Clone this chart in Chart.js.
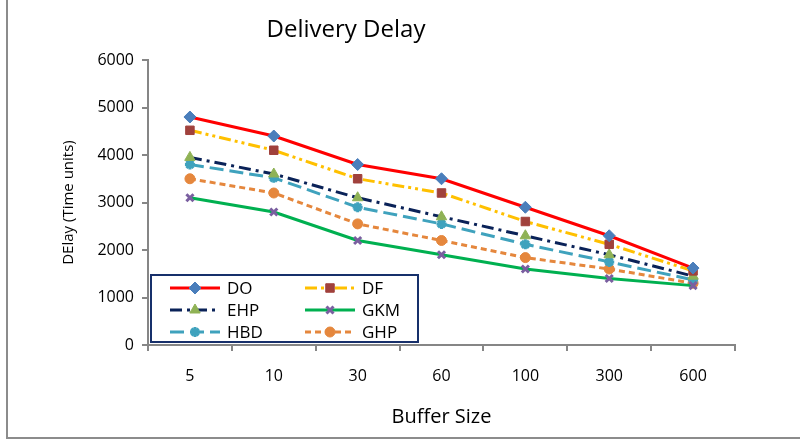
<!DOCTYPE html>
<html lang="en">
<head>
    <meta charset="UTF-8">
    <title>Delivery Delay</title>
    <script src="https://cdn.jsdelivr.net/npm/chart.js"></script>
    <style>
        html, body { margin: 0; padding: 0; background: #fff; }
        #wrap { position: relative; width: 800px; height: 442px; }
    </style>
</head>
<body>
<div id="wrap">
    <canvas id="delayChart" width="800" height="442"></canvas>
</div>

<script>
    // Data
    const bufferSizes = ['5', '10', '30', '60', '100', '300', '600'];
    const doValues  = [4800, 4400, 3800, 3500, 2900, 2300, 1620];
    const dfValues  = [4520, 4100, 3500, 3200, 2600, 2120, 1560];
    const ehpValues = [3950, 3600, 3100, 2700, 2300, 1900, 1450];
    const gkmValues = [3100, 2800, 2200, 1900, 1600, 1400, 1250];
    const hbdValues = [3800, 3520, 2900, 2550, 2120, 1750, 1370];
    const ghpValues = [3500, 3200, 2550, 2200, 1840, 1600, 1300];
    const yTicks = [0, 1000, 2000, 3000, 4000, 5000, 6000];

    const FONT = '"Open Sans", "Liberation Sans", sans-serif';

    // Frame lines, title and the boxed legend inside the plot
    const decorPlugin = {
        id: 'decor',
        beforeDraw(chart) {
            const ctx = chart.ctx;
            ctx.save();
            ctx.strokeStyle = '#8c8c8c';
            ctx.lineWidth = 2;
            ctx.beginPath();
            ctx.moveTo(7, 0);
            ctx.lineTo(7, 438);
            ctx.lineTo(800, 438);
            ctx.stroke();

            ctx.fillStyle = '#000';
            ctx.font = '24px ' + FONT;
            ctx.textAlign = 'center';
            ctx.textBaseline = 'middle';
            ctx.fillText('Delivery Delay', 346, 30);
            ctx.restore();
        },
        afterDatasetsDraw(chart) {
            const ctx = chart.ctx;
            const area = chart.chartArea;
            const bx = area.left + 3, by = area.top + 215, bw = 267, bh = 67;
            ctx.save();
            ctx.fillStyle = '#fff';
            ctx.fillRect(bx, by, bw, bh);
            ctx.strokeStyle = '#17306b';
            ctx.lineWidth = 2;
            ctx.strokeRect(bx, by, bw, bh);

            chart.data.datasets.forEach((ds, i) => {
                const col = i % 2, row = Math.floor(i / 2);
                const x0 = bx + (col === 0 ? 19 : 154);
                const x1 = x0 + 50;
                const y = by + 13 + row * 22;
                ctx.strokeStyle = ds.borderColor;
                ctx.lineWidth = 3;
                ctx.setLineDash(ds.borderDash || []);
                ctx.beginPath();
                ctx.moveTo(x0, y);
                ctx.lineTo(x1, y);
                ctx.stroke();
                ctx.setLineDash([]);
                ctx.fillStyle = ds.pointBackgroundColor;
                ctx.strokeStyle = ds.pointBorderColor;
                ctx.lineWidth = ds.pointBorderWidth || 1;
                Chart.helpers.drawPoint(ctx, {
                    pointStyle: ds.pointStyle,
                    radius: ds.pointRadius,
                    rotation: 0,
                    borderWidth: ds.pointBorderWidth || 1
                }, (x0 + x1) / 2, y);

                ctx.fillStyle = '#000';
                ctx.font = '17px ' + FONT;
                ctx.textAlign = 'left';
                ctx.textBaseline = 'middle';
                ctx.fillText(ds.label, x1 + 7, y + 1);
            });
            ctx.restore();
        }
    };

    function series(label, values, line, dash, style, pointColor, radius, pw) {
        return {
            label: label,
            data: values,
            borderColor: line,
            borderWidth: 3,
            borderDash: dash,
            fill: false,
            tension: 0,
            pointStyle: style,
            pointRadius: radius,
            pointHoverRadius: radius,
            pointBackgroundColor: pointColor,
            pointBorderColor: pointColor,
            pointBorderWidth: pw
        };
    }

    const ctx = document.getElementById('delayChart').getContext('2d');
    new Chart(ctx, {
        type: 'line',
        data: {
            labels: bufferSizes,
            datasets: [
                series('DO',  doValues,  '#ff0000', [],                 'rectRot',  '#4a7ebb', 6, 1),
                series('DF',  dfValues,  '#ffc000', [12, 4, 3, 4, 3, 4], 'rect',     '#a0413c', 6, 1),
                series('EHP', ehpValues, '#0a2258', [12, 5, 3, 5],      'triangle', '#8fb255', 6, 1),
                series('GKM', gkmValues, '#00b050', [],                 'crossRot', '#7a5fa0', 5, 3),
                series('HBD', hbdValues, '#3fa2bd', [14, 6],            'star',     '#3fa2bd', 5, 3),
                series('GHP', ghpValues, '#e5873d', [6, 4],             'circle',   '#e5873d', 5, 1)
            ]
        },
        options: {
            responsive: false,
            animation: false,
            layout: {
                padding: { left: 60, right: 65, top: 60, bottom: 10 }
            },
            plugins: {
                legend: { display: false },
                title: { display: false },
                tooltip: { enabled: false }
            },
            scales: {
                x: {
                    offset: true,
                    afterFit(scale) { scale.height = 442 - 345 - 10; },
                    grid: {
                        offset: true,
                        drawOnChartArea: false,
                        drawTicks: true,
                        tickLength: 6,
                        color: '#868686',
                        lineWidth: 2
                    },
                    border: { color: '#868686', width: 2 },
                    ticks: {
                        color: '#000',
                        padding: 16,
                        font: { family: FONT, size: 16 }
                    },
                    title: {
                        display: true,
                        text: 'Buffer Size',
                        color: '#000',
                        padding: { top: 0, bottom: 3 },
                        font: { family: FONT, size: 20 }
                    }
                },
                y: {
                    min: 0,
                    max: 6000,
                    afterFit(scale) { scale.width = 148 - 60; },
                    afterBuildTicks(scale) { scale.ticks = yTicks.map(v => ({ value: v })); },
                    grid: {
                        drawOnChartArea: false,
                        drawTicks: true,
                        tickLength: 6,
                        color: '#868686',
                        lineWidth: 2
                    },
                    border: { color: '#868686', width: 2 },
                    ticks: {
                        color: '#000',
                        padding: 8,
                        font: { family: FONT, size: 16 },
                        callback: v => String(v)
                    },
                    title: {
                        display: true,
                        text: 'DElay (Time units)',
                        color: '#000',
                        padding: { top: 0, bottom: 0 },
                        font: { family: FONT, size: 15 }
                    }
                }
            }
        },
        plugins: [decorPlugin]
    });
</script>
</body>
</html>
